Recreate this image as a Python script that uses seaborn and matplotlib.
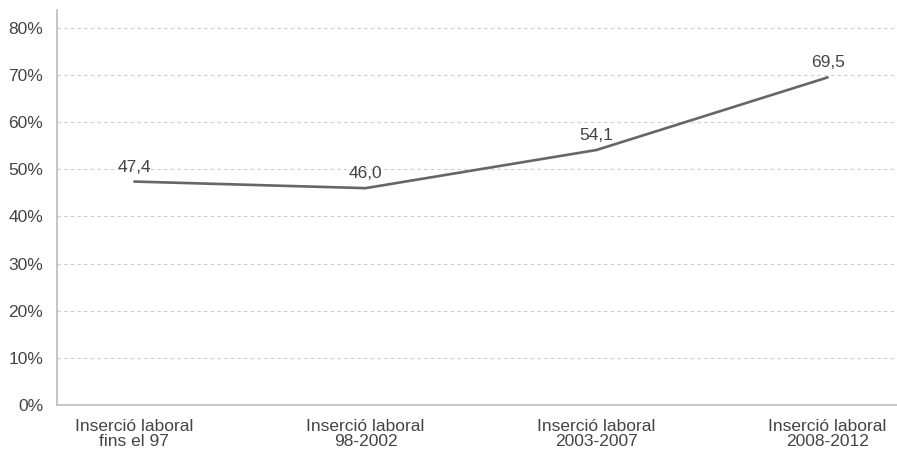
import numpy as np
import pandas as pd
import matplotlib.pyplot as plt
import seaborn as sns

categories = ["Inserció laboral\nfins el 97", "Inserció laboral\n98-2002",
              "Inserció laboral\n2003-2007", "Inserció laboral\n2008-2012"]
values = [47.4, 46.0, 54.1, 69.5]
y_ticks = [0, 10, 20, 30, 40, 50, 60, 70, 80]

df = pd.DataFrame({"periode": categories, "valor": values})

sns.set_theme(style="white")
plt.rcParams["font.family"] = ["Liberation Sans", "DejaVu Sans"]

text_color = "#444444"
axis_color = "#bbbbbb"

fig = plt.figure(figsize=(8.97, 4.55), dpi=100)
ax = fig.add_axes([0.0635, 0.11, 0.9365, 0.868])

sns.lineplot(data=df, x="periode", y="valor", color="#666666",
             linewidth=1.9, sort=False, ax=ax)

for i, v in enumerate(values):
    ax.annotate(f"{v:.1f}".replace(".", ","), (i, v), xytext=(0, 5),
                textcoords="offset points", ha="center", va="bottom",
                fontsize=12.5, color=text_color)

ax.set_ylim(0, 83.8)
ax.set_xlim(-0.335, 3.3)
ax.set_yticks(y_ticks)
ax.set_yticklabels([f"{t}%" for t in y_ticks])
ax.set_xlabel("")
ax.set_ylabel("")

ax.yaxis.grid(True, linestyle=(0, (3, 3)), color="#cccccc", linewidth=0.8)
ax.xaxis.grid(False)
ax.set_axisbelow(True)

for side in ["top", "right"]:
    ax.spines[side].set_visible(False)
for side in ["left", "bottom"]:
    ax.spines[side].set_color(axis_color)
    ax.spines[side].set_linewidth(1.2)

ax.tick_params(axis="y", length=8, width=0.8, color="#cccccc",
               labelsize=12.5, labelcolor=text_color, pad=2)
ax.tick_params(axis="x", length=6, width=0.8, color=axis_color,
               labelsize=12.5, labelcolor=text_color, pad=4)
for lbl in ax.get_xticklabels():
    lbl.set_linespacing(1.0)

fig.savefig("out.png", dpi=100)
